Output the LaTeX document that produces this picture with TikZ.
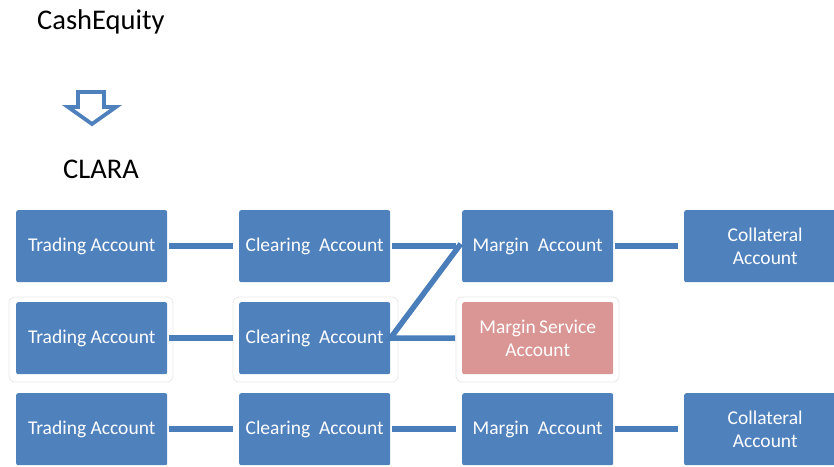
\documentclass[tikz,border=0pt]{standalone}
\usepackage{fontspec}
\setmainfont{Carlito}
\definecolor{boxblue}{HTML}{4F81BD}
\definecolor{boxpink}{HTML}{D99694}
\definecolor{linkblue}{HTML}{4A7EBB}
\begin{document}
\begin{tikzpicture}[x=1pt,y=-1pt,
  acct/.style={rectangle, rounded corners=2pt, fill=boxblue, text=white,
    minimum width=151pt, minimum height=72pt, inner sep=0pt,
    font=\fontsize{19.5}{23}\selectfont, align=center, anchor=north west},
  wide/.style={minimum width=162pt},
  pinkacct/.style={acct, fill=boxpink},
  link/.style={draw=linkblue, line width=5.5pt, shorten <=2pt, shorten >=6pt},
  frame/.style={draw=black!9, line width=0.8pt, rounded corners=6pt},
  title/.style={anchor=base west, inner sep=0pt, font=\fontsize{28.5}{31}\selectfont}
]
\useasboundingbox (0,0) rectangle (834,466);

% titles
\node[title] (cash) at (37,29) {CashEquity};
\node[title] (clara) at (63,178) {CLARA};

% hollow down arrow
\draw[draw=boxblue, line width=3.8pt, fill=white, line join=miter]
  (78,92) -- (104,92) -- (104,107) -- (116,107) -- (92,124) -- (68,107) -- (78,107) -- cycle;

% faint frames of the middle row
\draw[frame] (9,297) rectangle (173,382);
\draw[frame] (233,297) rectangle (398,382);
\draw[frame] (456,297) rectangle (619,382);

% row 1
\node[acct] (t1) at (16,210) {Trading Account};
\node[acct] (c1) at (239,210) {Clearing\ \ Account};
\node[acct] (m1) at (462,210) {Margin\ \ Account};
\node[acct,wide] (k1) at (684,210) {Collateral\\Account};

% row 2
\node[acct] (t2) at (16,302) {Trading Account};
\node[acct] (c2) at (239,302) {Clearing\ \ Account};
\node[pinkacct] (ms) at (462,302) {Margin\,Service\\Account};

% row 3
\node[acct] (t3) at (16,393) {Trading Account};
\node[acct] (c3) at (239,393) {Clearing\ \ Account};
\node[acct] (m3) at (462,393) {Margin\ \ Account};
\node[acct,wide] (k3) at (684,393) {Collateral\\Account};

% connectors
\draw[link] (t1) -- (c1);
\draw[link] (c1) -- (m1);
\draw[link] (m1) -- (k1.west |- m1);
\draw[link] (t2) -- (c2);
\draw[link, line join=miter, shorten <=2pt, shorten >=7pt]
  ([yshift=4pt]m1.west) -- (c2.east) -- (ms.west);
\draw[link] (t3) -- (c3);
\draw[link] (c3) -- (m3);
\draw[link] (m3) -- (k3.west |- m3);
\end{tikzpicture}
\end{document}
